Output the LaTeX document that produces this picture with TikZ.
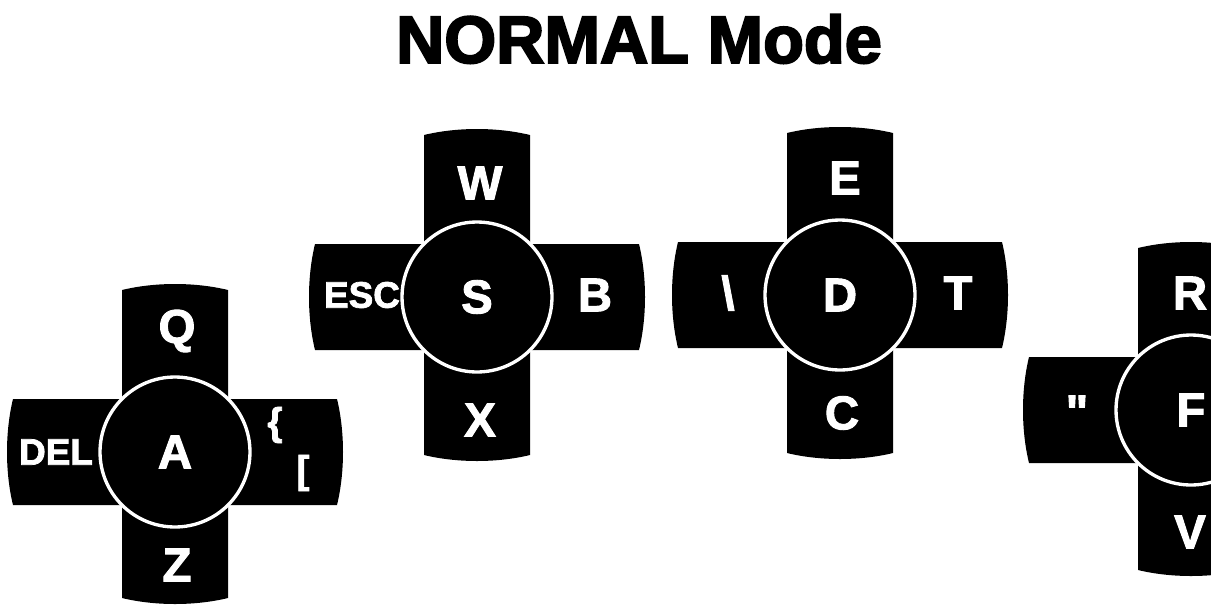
\documentclass[tikz,border=0pt]{standalone}
\usepackage{fontspec}
\setmainfont{Liberation Sans}
\newfontfamily\heavyfont{Liberation Sans Bold}[FakeBold=3]
\newfontfamily\keyfont{Liberation Sans Bold}[FakeBold=2]
\usetikzlibrary{positioning}

\tikzset{
  padarm/.style={fill=black},
  hub/.style={circle, fill=black, draw=white, line width=1.9pt, minimum size=3cm, inner sep=0pt, text=white, font=\keyfont\fontsize{27}{27}\selectfont},
  keylbl/.style={text=white, inner sep=0pt, font=\keyfont\fontsize{27}{27}\selectfont},
  wordlbl/.style={text=white, inner sep=0pt, font=\keyfont\fontsize{21}{21}\selectfont},
  symlbl/.style={text=white, inner sep=0pt, font=\keyfont\fontsize{22}{22}\selectfont}
}

\begin{document}
\begin{tikzpicture}[x=0.02cm, y=-0.02cm]
  \useasboundingbox (0,0) rectangle (1211,609);
  \clip (0,0) rectangle (1211,609);
  \node[font=\heavyfont\fontsize{38}{38}\selectfont, inner sep=0pt] (title) at (639,39) {NORMAL Mode};
  % the four pads (centre, length of the lower arm)
  \foreach \cx/\cy/\dn in {175/452/146, 477/297/158, 840/295/158, 1191/410/160} {
    \pgfmathsetmacro{\dc}{\dn+8}
    \fill[padarm, shift={(\cx,\cy)}] (-53,-162) .. controls (-20,-170) and (20,-170) .. (53,-162) -- (53,-53) -- (162,-53)
      .. controls (170,-20) and (170,20) .. (162,53) -- (53,53) -- (53,\dn)
      .. controls (20,\dc) and (-20,\dc) .. (-53,\dn) -- (-53,53) -- (-162,53)
      .. controls (-170,20) and (-170,-20) .. (-162,-53) -- (-53,-53) -- cycle;
  }
  \node[hub] (a) at (175,452) {A};
  \node[hub] (s) at (477,297) {S};
  \node[hub] (d) at (840,295) {D};
  \node[hub] (f) at (1191,410) {F};
  % A pad
  \node[keylbl] (q) at (177,331) {Q};
  \node[wordlbl] (del) at (56,452) {DEL};
  \node[symlbl] (lbrace) at (275,425) {\{};
  \node[symlbl] (lbrack) at (303,473) {[};
  \node[keylbl] (z) at (177,565) {Z};
  % S pad
  \node[keylbl] (w) at (480,183) {W};
  \node[wordlbl] (esc) at (362,295) {ESC};
  \node[keylbl] (b) at (595,295) {B};
  \node[keylbl] (x) at (480,420) {X};
  % D pad
  \node[keylbl] (e) at (845,178) {E};
  \node[keylbl] (bslash) at (728,293) {\textbackslash};
  \node[keylbl] (t) at (958,293) {T};
  \node[keylbl] (c) at (842,413) {C};
  % F pad
  \node[keylbl] (r) at (1190,293) {R};
  \node[keylbl] (quote) at (1077,412) {"};
  \node[keylbl] (v) at (1190,532) {V};
\end{tikzpicture}
\end{document}
